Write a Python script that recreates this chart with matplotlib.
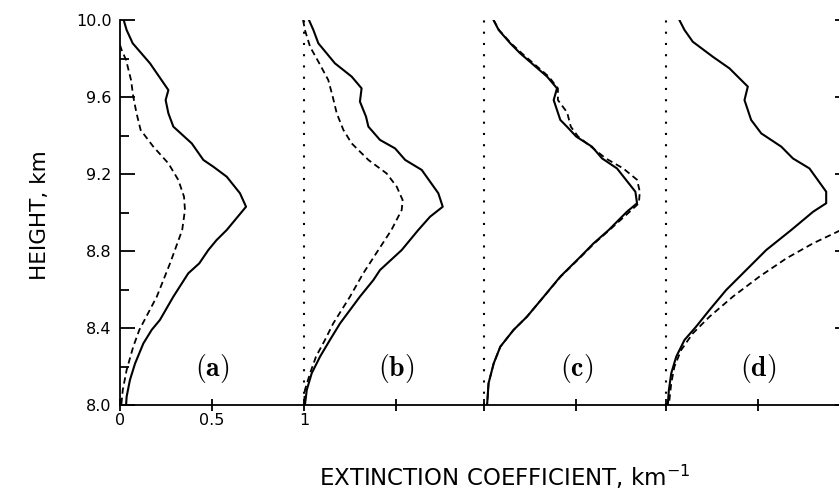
import matplotlib
matplotlib.use('Agg')
import matplotlib.pyplot as plt
import numpy as np

# panel baselines (each panel is shifted by about one unit)
offsets = [0.0, 1.0, 1.98, 2.97]
panel_labels = ['(a)', '(b)', '(c)', '(d)']

# (a)
a_solid_h = [10.0, 9.948, 9.879, 9.775, 9.636, 9.584, 9.515, 9.446, 9.359, 9.273, 9.238, 9.186, 9.10, 9.03,
             8.961, 8.909, 8.857, 8.805, 8.736, 8.684, 8.563, 8.442, 8.39, 8.32, 8.216, 8.13, 8.043, 8.0]
a_solid_x = [0.02, 0.036, 0.069, 0.163, 0.263, 0.248, 0.263, 0.29, 0.39, 0.453, 0.507, 0.58, 0.652, 0.685,
             0.625, 0.58, 0.525, 0.48, 0.431, 0.371, 0.29, 0.217, 0.172, 0.127, 0.082, 0.054, 0.036, 0.033]
a_dash_h = [9.87, 9.844, 9.792, 9.688, 9.602, 9.515, 9.429, 9.342, 9.255, 9.169, 9.082, 9.013, 8.909,
            8.736, 8.563, 8.39, 8.303, 8.182, 8.078, 8.0]
a_dash_x = [0.0, 0.009, 0.033, 0.06, 0.072, 0.09, 0.112, 0.181, 0.263, 0.317, 0.348, 0.353, 0.338,
            0.272, 0.2, 0.105, 0.072, 0.036, 0.015, 0.007]

# (b)
b_solid_h = [10.0, 9.948, 9.879, 9.775, 9.706, 9.645, 9.576, 9.498, 9.446, 9.377, 9.333, 9.273, 9.221, 9.10,
             9.03, 8.978, 8.909, 8.805, 8.701, 8.649, 8.563, 8.424, 8.338, 8.251, 8.165, 8.078, 8.0]
b_solid_x = [0.027, 0.051, 0.078, 0.168, 0.259, 0.313, 0.304, 0.337, 0.35, 0.413, 0.495, 0.55, 0.64, 0.73,
             0.754, 0.685, 0.621, 0.531, 0.413, 0.377, 0.304, 0.196, 0.141, 0.087, 0.042, 0.015, 0.005]
b_dash_h = [10.0, 9.948, 9.861, 9.775, 9.688, 9.602, 9.515, 9.429, 9.359, 9.273, 9.203, 9.134, 9.065, 9.013,
            8.909, 8.805, 8.684, 8.563, 8.424, 8.338, 8.251, 8.165, 8.078, 8.0]
b_dash_x = [-0.005, 0.005, 0.033, 0.083, 0.132, 0.156, 0.178, 0.214, 0.259, 0.35, 0.449, 0.504, 0.536, 0.531,
            0.475, 0.404, 0.322, 0.25, 0.159, 0.114, 0.065, 0.033, 0.005, 0.0]

# (c)
c_solid_h = [10.0, 9.948, 9.879, 9.826, 9.706, 9.645, 9.584, 9.481, 9.446, 9.394, 9.342, 9.281, 9.229, 9.108,
             9.048, 9.004, 8.909, 8.84, 8.77, 8.667, 8.563, 8.459, 8.39, 8.303, 8.216, 8.113, 8.0]
c_solid_x = [0.05, 0.078, 0.141, 0.196, 0.341, 0.395, 0.377, 0.413, 0.449, 0.5, 0.585, 0.64, 0.721, 0.821,
             0.83, 0.775, 0.676, 0.594, 0.522, 0.413, 0.323, 0.232, 0.159, 0.087, 0.051, 0.023, 0.015]
c_dash_h = [10.0, 9.948, 9.879, 9.826, 9.706, 9.645, 9.584, 9.52, 9.446, 9.394, 9.342, 9.281, 9.229, 9.17,
            9.108, 9.048, 9.004, 8.909, 8.84, 8.77, 8.667, 8.563, 8.459, 8.39, 8.303, 8.216, 8.113, 8.0]
c_dash_x = [0.05, 0.08, 0.145, 0.205, 0.35, 0.40, 0.40, 0.45, 0.47, 0.51, 0.58, 0.66, 0.755, 0.83,
            0.845, 0.84, 0.79, 0.68, 0.598, 0.525, 0.415, 0.323, 0.232, 0.159, 0.087, 0.051, 0.023, 0.015]

# (d)
d_solid_h = [10.0, 9.948, 9.887, 9.809, 9.749, 9.654, 9.584, 9.481, 9.411, 9.342, 9.281, 9.229, 9.108,
             9.048, 9.004, 8.909, 8.805, 8.701, 8.597, 8.494, 8.407, 8.338, 8.251, 8.165, 8.078, 8.0]
d_solid_x = [0.07, 0.098, 0.143, 0.252, 0.342, 0.442, 0.424, 0.46, 0.515, 0.624, 0.687, 0.777, 0.868,
             0.868, 0.797, 0.678, 0.542, 0.433, 0.324, 0.234, 0.161, 0.098, 0.053, 0.026, 0.013, 0.007]
d_dash_h = [9.10, 9.0, 8.95, 8.905, 8.84, 8.762, 8.667, 8.563, 8.459, 8.372, 8.286, 8.199, 8.113, 8.0]
d_dash_x = [1.3, 1.15, 1.05, 0.94, 0.797, 0.652, 0.505, 0.361, 0.234, 0.143, 0.08, 0.043, 0.026, 0.013]

solid = [(a_solid_x, a_solid_h), (b_solid_x, b_solid_h), (c_solid_x, c_solid_h), (d_solid_x, d_solid_h)]
dashed = [(a_dash_x, a_dash_h), (b_dash_x, b_dash_h), (c_dash_x, c_dash_h), (d_dash_x, d_dash_h)]

y_major = np.arange(8.0, 10.01, 0.4)
y_minor = np.arange(8.2, 10.0, 0.4)
x_tick_labels = ['0', '0.5', '1']

plt.rcParams['font.family'] = 'DejaVu Sans'
plt.rcParams['mathtext.fontset'] = 'dejavusans'

fig = plt.figure(figsize=(8.39, 4.92), dpi=100)
# right spine sits just past the picture edge, as in the scan
ax = fig.add_axes([120 / 839, 87 / 492, 730 / 839, 385 / 492])

for i, off in enumerate(offsets):
    sx, sh = solid[i]
    dx, dh = dashed[i]
    ax.plot(np.array(sx) + off, sh, color='black', lw=1.5)
    ax.plot(np.array(dx) + off, dh, color='black', lw=1.3, linestyle=(0, (3.5, 2.2)))
    if i > 0:
        ax.plot([off, off], [8.0, 10.0], color='black', lw=1.5, linestyle=(0, (1.0, 4.4)),
                dash_capstyle='butt')
    ax.text(off + 0.5, 8.19, r'$\mathbf{' + panel_labels[i] + '}$', ha='center', va='center',
            fontsize=20, math_fontfamily='cm')

ax.set_xlim(0, 730 / 184)
ax.set_ylim(8.0, 10.0)

ax.spines['top'].set_visible(False)
ax.spines['right'].set_visible(False)
ax.spines['left'].set_linewidth(1.3)
ax.spines['bottom'].set_linewidth(1.3)

ax.set_yticks(y_major)
ax.set_yticks(y_minor, minor=True)
ax.set_yticklabels(['%.1f' % v for v in y_major])
ax.tick_params(axis='y', which='major', direction='in', length=11, width=1.3, labelsize=11.5,
               right=True, pad=6)
ax.tick_params(axis='y', which='minor', direction='in', length=6.5, width=1.3, right=True)

xt = sorted(set([o for o in offsets] + [o + 0.5 for o in offsets]))
ax.set_xticks(xt)
ax.set_xticklabels(x_tick_labels + [''] * (len(xt) - 3))
ax.tick_params(axis='x', which='major', direction='inout', length=8, width=1.3, labelsize=11.5, pad=2)

fig.text(40 / 839, (492 - 215) / 492, 'HEIGHT, km', rotation=90, ha='center', va='center', fontsize=15.5)
fig.text(505 / 839, (492 - 477) / 492, 'EXTINCTION COEFFICIENT, km$^{-1}$', ha='center', va='center',
         fontsize=16.5)

fig.savefig('out.png', dpi=100)
